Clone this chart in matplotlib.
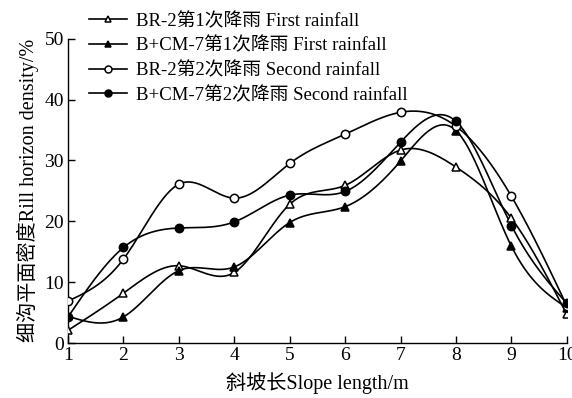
import numpy as np
import matplotlib
matplotlib.use("Agg")
import matplotlib.pyplot as plt

plt.rcParams['font.family'] = ['Liberation Serif', 'Noto Sans CJK SC']

slope_length = [1, 2, 3, 4, 5, 6, 7, 8, 9, 10]
br2_first = [2.1, 8.2, 12.7, 11.6, 22.8, 25.9, 31.7, 28.9, 20.5, 4.7]
bcm7_first = [4.4, 4.3, 11.9, 12.5, 19.8, 22.4, 29.9, 34.9, 15.9, 5.8]
br2_second = [6.9, 13.8, 26.1, 23.8, 29.5, 34.3, 37.9, 35.6, 24.1, 6.1]
bcm7_second = [4.3, 15.7, 18.9, 19.9, 24.3, 24.9, 33.0, 36.4, 19.3, 6.5]

labels = [
    "BR-2第1次降雨 First rainfall",
    "B+CM-7第1次降雨 First rainfall",
    "BR-2第2次降雨 Second rainfall",
    "B+CM-7第2次降雨 Second rainfall",
]


def natural_spline(x, y, n=300):
    x = np.asarray(x, float)
    y = np.asarray(y, float)
    m = len(x)
    h = np.diff(x)
    A = np.zeros((m, m))
    b = np.zeros(m)
    A[0, 0] = A[-1, -1] = 1.0
    for i in range(1, m - 1):
        A[i, i - 1] = h[i - 1]
        A[i, i] = 2 * (h[i - 1] + h[i])
        A[i, i + 1] = h[i]
        b[i] = 6 * ((y[i + 1] - y[i]) / h[i] - (y[i] - y[i - 1]) / h[i - 1])
    M = np.linalg.solve(A, b)
    xs = np.linspace(x[0], x[-1], n)
    idx = np.clip(np.searchsorted(x, xs) - 1, 0, m - 2)
    x0, x1 = x[idx], x[idx + 1]
    hh = x1 - x0
    t0 = x1 - xs
    t1 = xs - x0
    ys = (M[idx] * t0 ** 3 / (6 * hh) + M[idx + 1] * t1 ** 3 / (6 * hh)
          + (y[idx] / hh - M[idx] * hh / 6) * t0
          + (y[idx + 1] / hh - M[idx + 1] * hh / 6) * t1)
    return xs, ys


fig = plt.figure(figsize=(5.72, 3.98), dpi=100)
ax = fig.add_axes([0.119, 0.138, 0.872, 0.765])

series = [
    (br2_first, '^', 'white'),
    (bcm7_first, '^', 'black'),
    (br2_second, 'o', 'white'),
    (bcm7_second, 'o', 'black'),
]

for (vals, mk, fc), lab in zip(series, labels):
    xs, ys = natural_spline(slope_length, vals)
    ax.plot(xs, ys, color='black', lw=1.2, zorder=2)
    ax.plot(slope_length, vals, linestyle='none', marker=mk, markersize=6,
            markerfacecolor=fc, markeredgecolor='black', markeredgewidth=1.1,
            zorder=3)
    ax.plot([], [], color='black', lw=1.2, marker=mk, markersize=5,
            markerfacecolor=fc, markeredgecolor='black', markeredgewidth=1.1,
            label=lab)

ax.set_xlim(1, 10)
ax.set_ylim(0, 50)
ax.set_xticks(slope_length)
ax.set_yticks([0, 10, 20, 30, 40, 50])
for s in ['top', 'right']:
    ax.spines[s].set_visible(False)
for s in ['left', 'bottom']:
    ax.spines[s].set_linewidth(1.0)
ax.tick_params(direction='in', length=5, width=1, labelsize=14, pad=3)

ax.set_xlabel("斜坡长Slope length/m", fontsize=14.5, labelpad=6)
ax.set_ylabel("细沟平面密度Rill horizon density/%", fontsize=14.5, labelpad=4)

fig.legend(loc='upper left', bbox_to_anchor=(0.1425, 0.988), frameon=False,
           fontsize=13.5, handlelength=2.0, handletextpad=0.5,
           labelspacing=0.38, borderaxespad=0.0, borderpad=0.4)

for lab in ax.get_xticklabels() + ax.get_yticklabels():
    lab.set_clip_on(False)

fig.savefig("out.png", dpi=100)
